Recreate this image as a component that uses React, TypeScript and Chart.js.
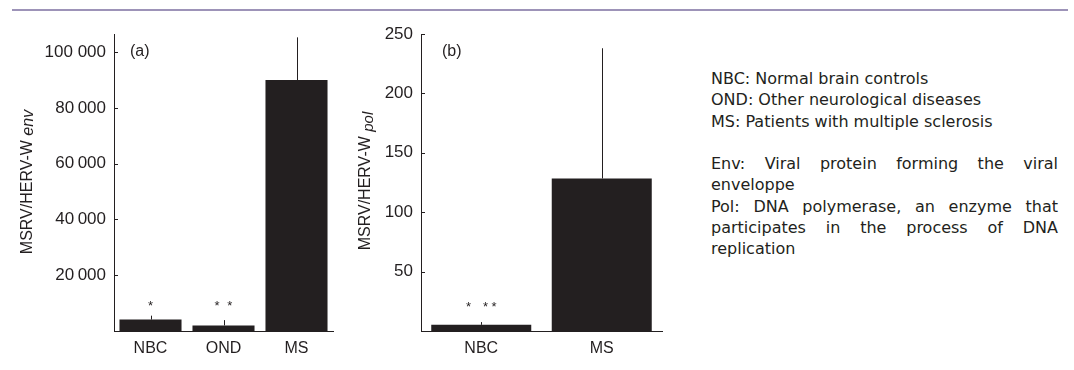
import React, { useEffect, useRef } from "react";
import { Chart, registerables } from "chart.js";

Chart.register(...registerables);

// ---- Data ----
const categoriesA = ["NBC", "OND", "MS"];
const valuesA = [4100, 2000, 90000];
const errorTopsA = [5500, 3900, 105300];
const markersA = ["*", "*  *", ""];
const tickValuesA = [20000, 40000, 60000, 80000, 100000];
const tickLabelsA = ["20\u2009000", "40\u2009000", "60\u2009000", "80\u2009000", "100 000"];

const categoriesB = ["NBC", "MS"];
const valuesB = [5.2, 128.4];
const errorTopsB = [7.5, 238];
const markersB = ["*   * *", ""];
const tickValuesB = [50, 100, 150, 200, 250];
const tickLabelsB = ["50", "100", "150", "200", "250"];

const notes = [
  { text: "NBC: Normal brain controls", justify: false },
  { text: "OND: Other neurological diseases", justify: false },
  { text: "MS: Patients with multiple sclerosis", justify: false },
  { text: "\u00a0", justify: false },
  { text: "Env: Viral protein forming the viral", justify: true },
  { text: "enveloppe", justify: false },
  { text: "Pol: DNA polymerase, an enzyme that", justify: true },
  { text: "participates in the process of DNA", justify: true },
  { text: "replication", justify: false },
];

const INK = "#231f20";
const FONT = "'Liberation Sans', Arial, sans-serif";

const extrasPlugin = {
  id: "extras",
  afterDatasetsDraw(chart: any, _args: any, opts: any) {
    const ctx = chart.ctx;
    const yScale = chart.scales.y;
    const area = chart.chartArea;
    const meta = chart.getDatasetMeta(0);
    ctx.save();
    ctx.strokeStyle = INK;
    ctx.lineWidth = 1;
    // error bars (upward only)
    meta.data.forEach((bar: any, i: number) => {
      const top = yScale.getPixelForValue(opts.errors[i]);
      const x = Math.round(bar.x) + 0.5;
      ctx.beginPath();
      ctx.moveTo(x, bar.y);
      ctx.lineTo(x, top);
      ctx.stroke();
    });
    // inward ticks
    yScale.ticks.forEach((t: any) => {
      const y = Math.round(yScale.getPixelForValue(t.value)) + 0.5;
      ctx.beginPath();
      ctx.moveTo(area.left, y);
      ctx.lineTo(area.left + 4, y);
      ctx.stroke();
    });
    // significance markers
    ctx.fillStyle = INK;
    ctx.font = `13px ${FONT}`;
    ctx.textAlign = "center";
    ctx.textBaseline = "alphabetic";
    const markY = yScale.getPixelForValue(opts.markerLevel) + 7.4;
    const cell = 4.25;
    meta.data.forEach((bar: any, i: number) => {
      const s: string = opts.markers[i] || "";
      const n = s.length;
      const start = bar.x - ((n - 1) * cell) / 2;
      for (let k = 0; k < n; k++) {
        if (s[k] === "*") ctx.fillText("*", start + k * cell, markY);
      }
    });
    // panel label
    ctx.font = `16px ${FONT}`;
    ctx.textAlign = "left";
    ctx.textBaseline = "middle";
    ctx.fillText(opts.panel, area.left + opts.panelDx, opts.panelY);
    // axis title with italic part
    const mainFont = `16px ${FONT}`;
    const subFont = `italic ${opts.subSize}px ${FONT}`;
    ctx.font = mainFont;
    const w1 = ctx.measureText(opts.title).width;
    ctx.font = subFont;
    const w2 = ctx.measureText(opts.sub).width;
    const W = w1 + w2;
    ctx.translate(opts.titleX, opts.titleY);
    ctx.rotate(-Math.PI / 2);
    ctx.textBaseline = "alphabetic";
    ctx.textAlign = "left";
    ctx.font = mainFont;
    ctx.fillText(opts.title, -W / 2, 0);
    ctx.font = subFont;
    ctx.fillText(opts.sub, -W / 2 + w1, opts.subShift);
    ctx.restore();
  },
};

function makeConfig(
  labels: string[],
  values: number[],
  max: number,
  tickValues: number[],
  tickLabels: string[],
  barPct: number,
  yWidth: number,
  rightPad: number,
  extras: any
): any {
  return {
    type: "bar",
    data: {
      labels,
      datasets: [
        {
          data: values,
          backgroundColor: INK,
          borderWidth: 0,
          barPercentage: barPct,
          categoryPercentage: 1,
        },
      ],
    },
    options: {
      responsive: false,
      animation: false,
      layout: { padding: { top: 34, right: rightPad, left: 0, bottom: 0 } },
      plugins: {
        legend: { display: false },
        tooltip: { enabled: false },
        extras,
      },
      scales: {
        x: {
          grid: { display: false, drawTicks: false },
          border: { display: true, color: INK, width: 1 },
          ticks: { color: INK, font: { family: FONT, size: 16 }, padding: 8 },
          afterFit: (s: any) => {
            s.height = 39;
          },
        },
        y: {
          min: 0,
          max,
          grid: { display: false, drawTicks: false },
          border: { display: true, color: INK, width: 1 },
          ticks: {
            color: INK,
            font: { family: FONT, size: 17 },
            padding: 8,
            callback: (v: any) => {
              const i = tickValues.indexOf(Number(v));
              return i >= 0 ? tickLabels[i] : "";
            },
          },
          afterBuildTicks: (s: any) => {
            s.ticks = tickValues.map((v) => ({ value: v }));
          },
          afterFit: (s: any) => {
            s.width = yWidth;
          },
        },
      },
    },
    plugins: [extrasPlugin],
  };
}

export default function App() {
  const refA = useRef<HTMLCanvasElement>(null);
  const refB = useRef<HTMLCanvasElement>(null);

  useEffect(() => {
    const a = new Chart(
      refA.current as HTMLCanvasElement,
      makeConfig(categoriesA, valuesA, 106500, tickValuesA, tickLabelsA, 0.85, 114, 12, {
        errors: errorTopsA,
        markers: markersA,
        markerLevel: 10200,
        panel: "(a)",
        panelDx: 16,
        panelY: 52,
        title: "MSRV/HERV-W ",
        sub: "env",
        subSize: 16,
        subShift: 1,
        titleX: 32,
        titleY: 182,
      })
    );
    const b = new Chart(
      refB.current as HTMLCanvasElement,
      makeConfig(categoriesB, valuesB, 250, tickValuesB, tickLabelsB, 0.83, 76, 18, {
        errors: errorTopsB,
        markers: markersB,
        markerLevel: 23,
        panel: "(b)",
        panelDx: 21,
        panelY: 52,
        title: "MSRV/HERV-W ",
        sub: "pol",
        subSize: 15,
        subShift: 3,
        titleX: 25,
        titleY: 181,
      })
    );
    return () => {
      a.destroy();
      b.destroy();
    };
  }, []);

  return (
    <div
      style={{
        position: "absolute",
        left: 0,
        top: 0,
        width: 1074,
        height: 370,
        overflow: "hidden",
        background: "#ffffff",
      }}
    >
      <div
        style={{
          position: "absolute",
          left: 12,
          top: 9,
          width: 1056,
          height: 2,
          background: "#9d93b8",
        }}
      />
      <canvas
        ref={refA}
        width={345}
        height={370}
        style={{ position: "absolute", left: 0, top: 0, width: 345, height: 370 }}
      />
      <canvas
        ref={refB}
        width={335}
        height={370}
        style={{ position: "absolute", left: 345, top: 0, width: 335, height: 370 }}
      />
      <div
        style={{
          position: "absolute",
          left: 711,
          top: 68,
          width: 347,
          fontFamily: "'DejaVu Sans', Verdana, sans-serif",
          fontSize: 16,
          lineHeight: "21.3px",
          color: INK,
        }}
      >
        {notes.map((n, i) => (
          <div
            key={i}
            style={{
              whiteSpace: "nowrap",
              textAlign: n.justify ? "justify" : "left",
              textAlignLast: n.justify ? "justify" : "left",
            }}
          >
            {n.text}
          </div>
        ))}
      </div>
    </div>
  );
}
